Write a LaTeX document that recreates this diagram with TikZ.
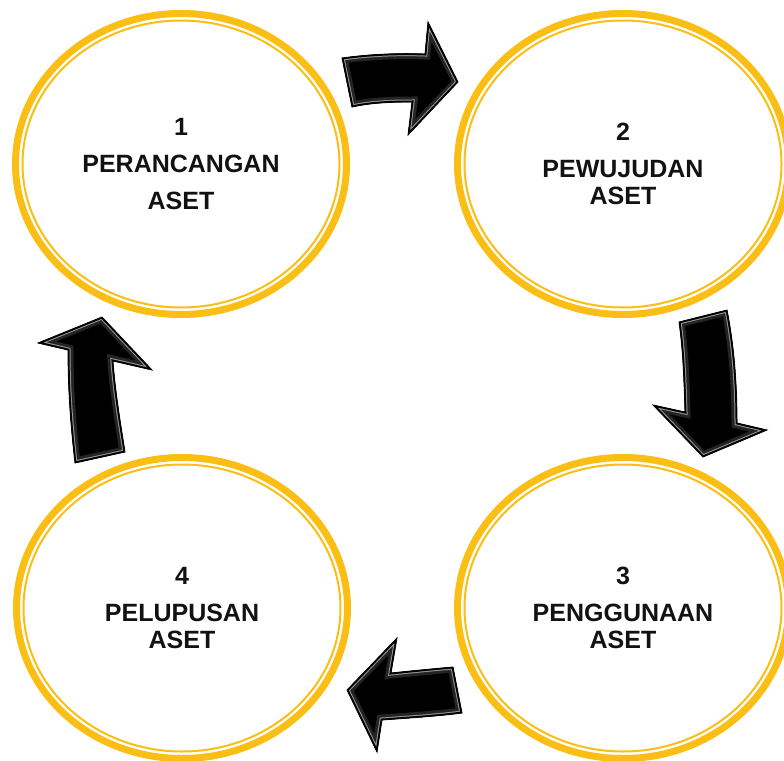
\documentclass[tikz,border=0pt]{standalone}
\usepackage{fontspec}
\setmainfont{Liberation Sans}
\usetikzlibrary{shapes.geometric}
\definecolor{gold}{RGB}{251,190,20}
\begin{document}
\begin{tikzpicture}[x=1pt,y=-1pt,
  stage/.style={ellipse, draw=gold, line width=7pt, fill=white, inner sep=0pt,
    minimum width=331pt, minimum height=301pt, align=center, text=black!93,
    font=\fontsize{25}{27}\selectfont\bfseries},
  ring/.style={draw=gold, line width=2pt},
  ]
\useasboundingbox[fill=white] (0,0) rectangle (784,760);

\node[stage] (c1) at (181,164) {1\\[10pt]PERANCANGAN\\[10pt]ASET};
\node[stage] (c2) at (623,164) {2\\[10pt]PEWUJUDAN\\ASET};
\node[stage] (c3) at (623,608) {3\\[10pt]PENGGUNAAN\\ASET};
\node[stage] (c4) at (182,608) {4\\[10pt]PELUPUSAN\\ASET};
\foreach \c in {c1,c2,c3,c4}
  \draw[ring] (\c.center) ellipse [x radius=158.5pt, y radius=143.5pt];

\def\arrowA{(342,58) .. controls (370,54) and (400,53) .. (425,54) -- (428,22) -- (458,82) -- (408,135) -- (412,102) .. controls (390,102) and (370,103) .. (352,107) -- cycle}
\def\arrowB{(679,322) -- (727,310) .. controls (735,350) and (737,390) .. (737,423) -- (767,430) -- (703,457) -- (653,405) -- (685,412) .. controls (684,380) and (683,350) .. (679,322) -- cycle}
\def\arrowC{(453,667) .. controls (430,669) and (410,671) .. (391,673) -- (397,638) -- (347,690) -- (377,752) -- (382,720) .. controls (410,718) and (440,716) .. (462,713) -- cycle}
\def\arrowD{(75,463) .. controls (70,420) and (68,385) .. (68,350) -- (38,343) -- (102,317) -- (152,370) -- (113,361) .. controls (115,390) and (120,420) .. (125,452) -- cycle}

\foreach \a in {\arrowA,\arrowB,\arrowC,\arrowD}{
  \fill[black] \a;
  \begin{scope}
    \clip \a;
    \draw[line width=11pt, black!86, line join=miter] \a;
    \draw[line width=5pt, black!40, line join=miter] \a;
    \draw[line width=3pt, black, line join=miter] \a;
  \end{scope}
  \draw[black, line width=0.8pt, line join=miter] \a;
}
\end{tikzpicture}
\end{document}
